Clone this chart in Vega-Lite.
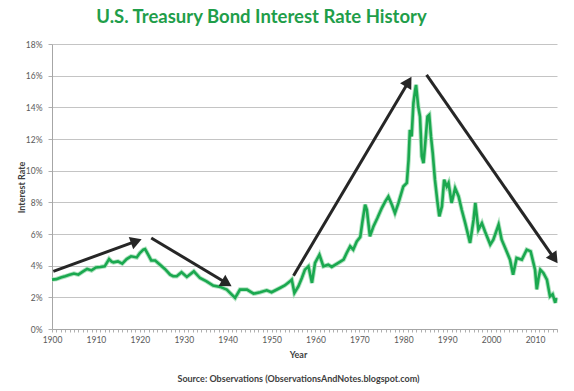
{
  "$schema": "https://vega.github.io/schema/vega-lite/v6.json",
  "width": 505,
  "height": 285,
  "autosize": "none",
  "padding": {"left": 52, "top": 44, "right": 17, "bottom": 62},
  "background": "#ffffff",
  "config": {
    "view": {"stroke": null},
    "font": "Lato",
    "axis": {"labelOverlap": false, "labelFlush": false}
  },
  "title": {
    "text": "U.S. Treasury Bond Interest Rate History",
    "font": "Lato",
    "fontSize": 18.5,
    "fontWeight": "bold",
    "color": "#1f9e4a",
    "anchor": "middle",
    "dx": -43,
    "dy": 20,
    "offset": 19,
    "baseline": "alphabetic"
  },
  "datasets": {
    "rates": [
      {"year": 1900, "rate": 3.12}, {"year": 1901, "rate": 3.15}, {"year": 1902, "rate": 3.25},
      {"year": 1903, "rate": 3.33}, {"year": 1904, "rate": 3.42}, {"year": 1905, "rate": 3.5},
      {"year": 1906, "rate": 3.43}, {"year": 1907, "rate": 3.62}, {"year": 1908, "rate": 3.79},
      {"year": 1909, "rate": 3.7}, {"year": 1910, "rate": 3.89}, {"year": 1911, "rate": 3.92},
      {"year": 1912, "rate": 3.96}, {"year": 1913, "rate": 4.42}, {"year": 1913.6, "rate": 4.25},
      {"year": 1914, "rate": 4.21}, {"year": 1915, "rate": 4.27}, {"year": 1916, "rate": 4.13},
      {"year": 1917, "rate": 4.42}, {"year": 1918, "rate": 4.59}, {"year": 1919.3, "rate": 4.52},
      {"year": 1920, "rate": 4.8}, {"year": 1920.8, "rate": 5.01}, {"year": 1921.2, "rate": 5.05},
      {"year": 1921.9, "rate": 4.69}, {"year": 1922.6, "rate": 4.33}, {"year": 1923.5, "rate": 4.33},
      {"year": 1924.6, "rate": 4.06}, {"year": 1925.7, "rate": 3.79}, {"year": 1926.9, "rate": 3.43},
      {"year": 1927.6, "rate": 3.33}, {"year": 1928.4, "rate": 3.33}, {"year": 1929.5, "rate": 3.58},
      {"year": 1930.7, "rate": 3.29}, {"year": 1932.3, "rate": 3.64}, {"year": 1933.7, "rate": 3.22},
      {"year": 1935.2, "rate": 3.01}, {"year": 1936.7, "rate": 2.74}, {"year": 1938.3, "rate": 2.66},
      {"year": 1939.8, "rate": 2.49}, {"year": 1941.7, "rate": 1.96}, {"year": 1942.8, "rate": 2.49},
      {"year": 1944.4, "rate": 2.49}, {"year": 1945.9, "rate": 2.23}, {"year": 1947.4, "rate": 2.32},
      {"year": 1948.9, "rate": 2.44}, {"year": 1950, "rate": 2.32}, {"year": 1951.9, "rate": 2.59},
      {"year": 1953, "rate": 2.75}, {"year": 1954.2, "rate": 3.01}, {"year": 1954.6, "rate": 3.12},
      {"year": 1955.2, "rate": 2.28}, {"year": 1956.1, "rate": 2.69}, {"year": 1956.9, "rate": 3.22},
      {"year": 1957.6, "rate": 3.75}, {"year": 1958.4, "rate": 3.96}, {"year": 1959.2, "rate": 2.91},
      {"year": 1959.9, "rate": 4.17}, {"year": 1960.9, "rate": 4.69}, {"year": 1961.8, "rate": 3.96},
      {"year": 1962.9, "rate": 4.06}, {"year": 1963.7, "rate": 3.92}, {"year": 1965.2, "rate": 4.17},
      {"year": 1966.4, "rate": 4.38}, {"year": 1967.1, "rate": 4.8}, {"year": 1967.9, "rate": 5.22},
      {"year": 1968.6, "rate": 5.01}, {"year": 1969.4, "rate": 5.53}, {"year": 1970.2, "rate": 5.81},
      {"year": 1970.7, "rate": 6.8}, {"year": 1971.3, "rate": 7.85}, {"year": 1971.7, "rate": 7.53},
      {"year": 1972.4, "rate": 5.85}, {"year": 1973.2, "rate": 6.48}, {"year": 1974.1, "rate": 7.01},
      {"year": 1975.1, "rate": 7.64}, {"year": 1975.9, "rate": 8.06}, {"year": 1976.6, "rate": 8.37},
      {"year": 1977.4, "rate": 7.85}, {"year": 1978.1, "rate": 7.32}, {"year": 1978.9, "rate": 7.96},
      {"year": 1980, "rate": 9.0}, {"year": 1980.8, "rate": 9.22}, {"year": 1981.2, "rate": 10.69},
      {"year": 1981.5, "rate": 12.58}, {"year": 1981.9, "rate": 12.16}, {"year": 1982.3, "rate": 14.26},
      {"year": 1982.7, "rate": 15.1}, {"year": 1982.9, "rate": 15.42}, {"year": 1983.4, "rate": 14.05},
      {"year": 1983.8, "rate": 13.42}, {"year": 1984.2, "rate": 10.9}, {"year": 1984.6, "rate": 10.48},
      {"year": 1985.0, "rate": 11.74}, {"year": 1985.5, "rate": 13.42}, {"year": 1985.9, "rate": 13.53},
      {"year": 1986.3, "rate": 12.16}, {"year": 1986.7, "rate": 11.11}, {"year": 1987.2, "rate": 9.43},
      {"year": 1987.8, "rate": 7.96}, {"year": 1988.2, "rate": 7.11}, {"year": 1988.8, "rate": 7.74},
      {"year": 1989.3, "rate": 9.43}, {"year": 1989.9, "rate": 9.0}, {"year": 1990.3, "rate": 9.22},
      {"year": 1991, "rate": 7.96}, {"year": 1991.8, "rate": 8.9}, {"year": 1992.6, "rate": 8.37},
      {"year": 1993.3, "rate": 7.53}, {"year": 1994.1, "rate": 6.69}, {"year": 1995.2, "rate": 5.43},
      {"year": 1996, "rate": 6.9}, {"year": 1996.4, "rate": 7.96}, {"year": 1997.1, "rate": 6.27},
      {"year": 1997.9, "rate": 6.69}, {"year": 1998.6, "rate": 6.16}, {"year": 1999.8, "rate": 5.33},
      {"year": 2000.5, "rate": 5.64}, {"year": 2001.7, "rate": 6.59}, {"year": 2002.4, "rate": 5.64},
      {"year": 2003.2, "rate": 5.12}, {"year": 2004.3, "rate": 4.38}, {"year": 2005, "rate": 3.43},
      {"year": 2005.8, "rate": 4.49}, {"year": 2007, "rate": 4.38}, {"year": 2008.1, "rate": 5.01},
      {"year": 2009, "rate": 4.9}, {"year": 2010, "rate": 3.75}, {"year": 2010.4, "rate": 2.5},
      {"year": 2010.8, "rate": 3.22}, {"year": 2011.2, "rate": 3.75}, {"year": 2011.9, "rate": 3.54},
      {"year": 2012.7, "rate": 3.12}, {"year": 2013.4, "rate": 2.06}, {"year": 2014, "rate": 2.2},
      {"year": 2014.6, "rate": 1.65}, {"year": 2014.8, "rate": 1.96}
    ],
    "arrows": [
      {"id": 1, "year": 1900.3, "rate": 3.64, "year2": 1919.2, "rate2": 5.55},
      {"id": 2, "year": 1922.6, "rate": 5.75, "year2": 1939.8, "rate2": 2.89},
      {"id": 3, "year": 1955.0, "rate": 3.37, "year2": 1981.2, "rate2": 15.62},
      {"id": 4, "year": 1985.3, "rate": 16.05, "year2": 2014.4, "rate2": 4.44}
    ]
  },
  "encoding": {
    "x": {
      "field": "year", "type": "quantitative",
      "scale": {"domain": [1900, 2015], "nice": false, "zero": false},
      "axis": {
        "values": [1900,1901,1902,1903,1904,1905,1906,1907,1908,1909,1910,1911,1912,1913,1914,1915,1916,1917,1918,1919,1920,1921,1922,1923,1924,1925,1926,1927,1928,1929,1930,1931,1932,1933,1934,1935,1936,1937,1938,1939,1940,1941,1942,1943,1944,1945,1946,1947,1948,1949,1950,1951,1952,1953,1954,1955,1956,1957,1958,1959,1960,1961,1962,1963,1964,1965,1966,1967,1968,1969,1970,1971,1972,1973,1974,1975,1976,1977,1978,1979,1980,1981,1982,1983,1984,1985,1986,1987,1988,1989,1990,1991,1992,1993,1994,1995,1996,1997,1998,1999,2000,2001,2002,2003,2004,2005,2006,2007,2008,2009,2010,2011,2012,2013,2014,2015],
        "labelExpr": "datum.value % 10 === 0 ? '' + datum.value : ''",
        "labelOverlap": false,
        "labelFlush": false,
        "labelFont": "Lato",
        "labelFontSize": 8.5,
        "labelColor": "#595959",
        "labelPadding": 3,
        "tickSize": 3,
        "tickColor": "#b0b0b0",
        "domainColor": "#a6a6a6",
        "grid": false,
        "title": ["Year", "Source: Observations  (ObservationsAndNotes.blogspot.com)"],
        "titleFont": "Lato",
        "titleFontSize": 9,
        "titleFontWeight": "bold",
        "titleColor": "#404040",
        "titleLineHeight": 24,
        "titleX": 246,
        "titlePadding": 7
      }
    },
    "y": {
      "field": "rate", "type": "quantitative",
      "scale": {"domain": [0, 18], "nice": false},
      "axis": {
        "values": [0, 2, 4, 6, 8, 10, 12, 14, 16, 18],
        "labelExpr": "datum.value + '%'",
        "labelOverlap": false,
        "labelFont": "Lato",
        "labelFontSize": 8.5,
        "labelColor": "#595959",
        "labelPadding": 6,
        "tickSize": 4,
        "tickColor": "#b0b0b0",
        "domainColor": "#a6a6a6",
        "grid": true,
        "gridColor": "#c4c4c4",
        "gridWidth": 1,
        "title": "Interest Rate",
        "titleFont": "Lato",
        "titleFontSize": 9,
        "titleFontWeight": "bold",
        "titleColor": "#404040",
        "titleX": -31,
        "titleY": 143,
        "titleBaseline": "middle",
        "titleAlign": "center"
      }
    }
  },
  "layer": [
    {
      "data": {"name": "rates"},
      "mark": {"type": "line", "color": "#9edcb2", "strokeWidth": 4.5, "opacity": 0.8}
    },
    {
      "data": {"name": "rates"},
      "mark": {"type": "line", "color": "#1aa84f", "strokeWidth": 2.6}
    },
    {
      "data": {"name": "arrows"},
      "mark": {"type": "rule", "color": "#262626", "strokeWidth": 3},
      "encoding": {
        "x2": {"field": "year2"},
        "y2": {"field": "rate2"}
      }
    },
    {
      "data": {"name": "arrows"},
      "transform": [{"filter": "datum.id == 1"}],
      "mark": {"type": "point", "shape": "triangle-up", "filled": true, "color": "#262626", "opacity": 1, "size": 170, "angle": 70},
      "encoding": {
        "x": {"field": "year2", "type": "quantitative"},
        "y": {"field": "rate2", "type": "quantitative"}
      }
    },
    {
      "data": {"name": "arrows"},
      "transform": [{"filter": "datum.id == 2"}],
      "mark": {"type": "point", "shape": "triangle-up", "filled": true, "color": "#262626", "opacity": 1, "size": 170, "angle": 121},
      "encoding": {
        "x": {"field": "year2", "type": "quantitative"},
        "y": {"field": "rate2", "type": "quantitative"}
      }
    },
    {
      "data": {"name": "arrows"},
      "transform": [{"filter": "datum.id == 3"}],
      "mark": {"type": "point", "shape": "triangle-up", "filled": true, "color": "#262626", "opacity": 1, "size": 170, "angle": 31},
      "encoding": {
        "x": {"field": "year2", "type": "quantitative"},
        "y": {"field": "rate2", "type": "quantitative"}
      }
    },
    {
      "data": {"name": "arrows"},
      "transform": [{"filter": "datum.id == 4"}],
      "mark": {"type": "point", "shape": "triangle-up", "filled": true, "color": "#262626", "opacity": 1, "size": 170, "angle": 145},
      "encoding": {
        "x": {"field": "year2", "type": "quantitative"},
        "y": {"field": "rate2", "type": "quantitative"}
      }
    }
  ]
}
